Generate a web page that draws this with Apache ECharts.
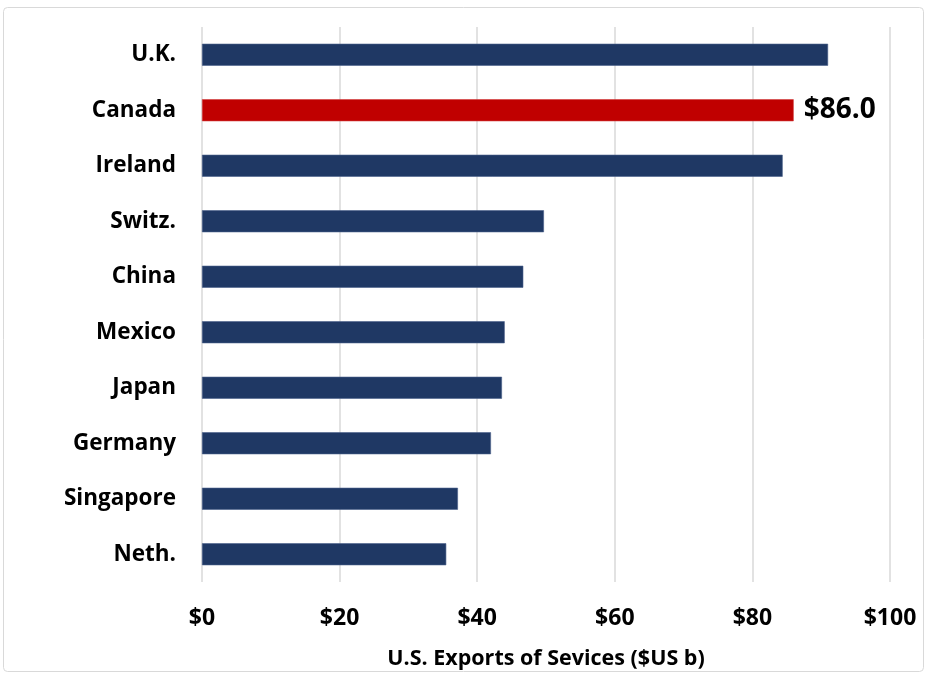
<!DOCTYPE html>
<html>
<head>
<meta charset="utf-8">
<script src="https://cdn.jsdelivr.net/npm/echarts@6/dist/echarts.min.js"></script>
<style>
  html, body { margin: 0; padding: 0; background: #fff; }
  #chart { width: 927px; height: 675px; }
</style>
</head>
<body>
<div id="chart"></div>
<script>
// Top U.S. services export markets, $US billions
const countries = ['U.K.', 'Canada', 'Ireland', 'Switz.', 'China', 'Mexico', 'Japan', 'Germany', 'Singapore', 'Neth.'];
const exportsValues = [91.0, 86.0, 84.4, 49.7, 46.7, 44.0, 43.6, 42.0, 37.2, 35.5];
const highlightCountry = 'Canada';
const xTicks = [0, 20, 40, 60, 80, 100];

const NAVY = '#1f3864';
const RED = '#c00000';
const FONT = '"Open Sans", Lato, sans-serif';

const chart = echarts.init(document.getElementById('chart'));

const barData = countries.map((c, i) => {
  const hi = c === highlightCountry;
  return {
    value: exportsValues[i],
    itemStyle: { color: hi ? RED : NAVY, borderColor: hi ? '#d23a3a' : '#4a5f8a', borderWidth: 0.6 },
    label: {
      show: hi,
      position: 'right',
      distance: 10,
      formatter: p => '$' + p.value.toFixed(1),
      color: '#000',
      fontFamily: FONT,
      fontWeight: 'bold',
      fontSize: 28
    }
  };
});

chart.setOption({
  animation: false,
  backgroundColor: '#fff',
  graphic: [{
    type: 'rect',
    shape: { x: 3.5, y: 7.5, width: 920, height: 664, r: 4 },
    style: { fill: 'none', stroke: '#d9d9d9', lineWidth: 1 },
    silent: true
  }],
  grid: { left: 202, right: 37, top: 27, bottom: 92, containLabel: false },
  xAxis: {
    type: 'value',
    min: xTicks[0],
    max: xTicks[xTicks.length - 1],
    interval: 20,
    axisLine: { show: false },
    axisTick: { show: false },
    splitLine: { show: true, lineStyle: { color: '#d9d9d9', width: 1.5 } },
    axisLabel: {
      formatter: v => '$' + v,
      color: '#000',
      fontFamily: FONT,
      fontWeight: 'bold',
      fontSize: 23,
      margin: 25
    },
    name: 'U.S. Exports of Sevices ($US b)',
    nameLocation: 'middle',
    nameGap: 66,
    nameTextStyle: { color: '#000', fontFamily: FONT, fontWeight: 'bold', fontSize: 21.5 }
  },
  yAxis: {
    type: 'category',
    data: countries,
    inverse: true,
    axisLine: { show: false },
    axisTick: { show: false },
    axisLabel: {
      color: '#000',
      fontFamily: FONT,
      fontWeight: 'bold',
      fontSize: 22.5,
      margin: 26
    }
  },
  series: [{
    type: 'bar',
    data: barData,
    barWidth: 22
  }]
});
</script>
</body>
</html>
